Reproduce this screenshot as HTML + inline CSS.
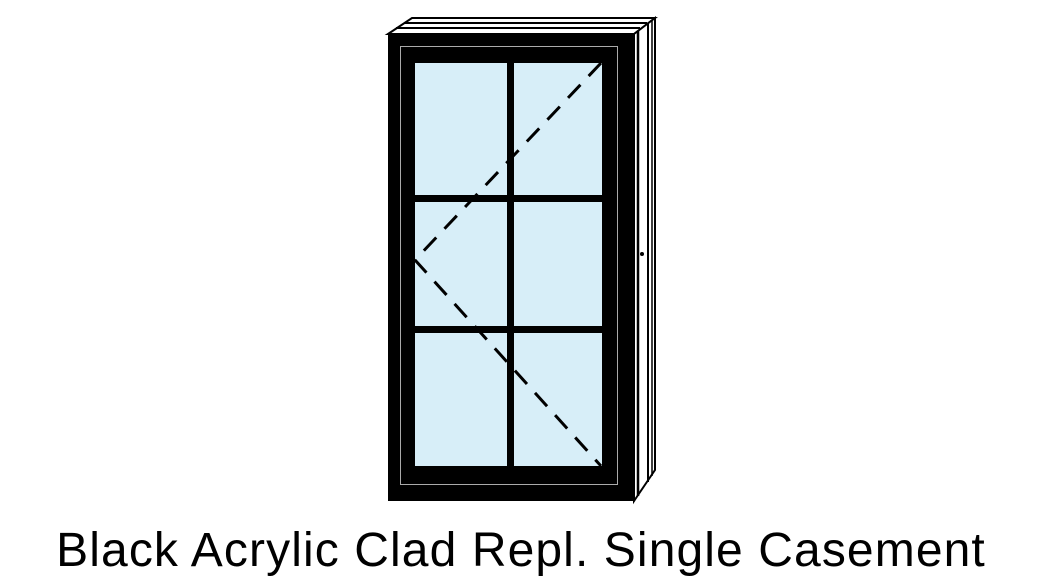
<!DOCTYPE html>
<html><head><style>
html,body{margin:0;padding:0;background:#fff;width:1042px;height:587px;overflow:hidden}
.t{position:absolute;left:0;width:1042px;top:523px;text-align:center;font-family:"Liberation Sans",sans-serif;font-size:48px;letter-spacing:1.1px;color:#000;white-space:nowrap}
</style></head><body>
<svg width="1042" height="587" style="position:absolute;left:0;top:0">
<polygon points="388,34 412,18 655,18 634,34" fill="#fff" stroke="#000" stroke-width="2"/>
<line x1="396" y1="28" x2="640" y2="28" stroke="#000" stroke-width="2"/>
<line x1="404" y1="23" x2="647" y2="23" stroke="#000" stroke-width="2"/>
<polygon points="634,34 655,18 655,470 634,501" fill="#fff" stroke="#000" stroke-width="2"/>
<line x1="638" y1="31" x2="638" y2="496" stroke="#000" stroke-width="2.5"/>
<line x1="648" y1="23" x2="648" y2="482" stroke="#000" stroke-width="2"/>
<line x1="652" y1="20" x2="652" y2="476" stroke="#000" stroke-width="1.5"/>
<circle cx="642" cy="254" r="2" fill="#000"/>
<rect x="388" y="34" width="246" height="467" fill="#000"/>
<rect x="400.5" y="46.5" width="217" height="438" fill="none" stroke="#aaa" stroke-width="1"/>
<rect x="415" y="63" width="187" height="403" fill="#d7eef8"/>
<rect x="507" y="63" width="7" height="403" fill="#000"/>
<rect x="415" y="195" width="187" height="7" fill="#000"/>
<rect x="415" y="326" width="187" height="7" fill="#000"/>
<polyline points="601,63 415,260 601,466" fill="none" stroke="#000" stroke-width="3" stroke-dasharray="18,12"/>
</svg>
<div class="t">Black Acrylic Clad Repl. Single Casement</div>
</body></html>
